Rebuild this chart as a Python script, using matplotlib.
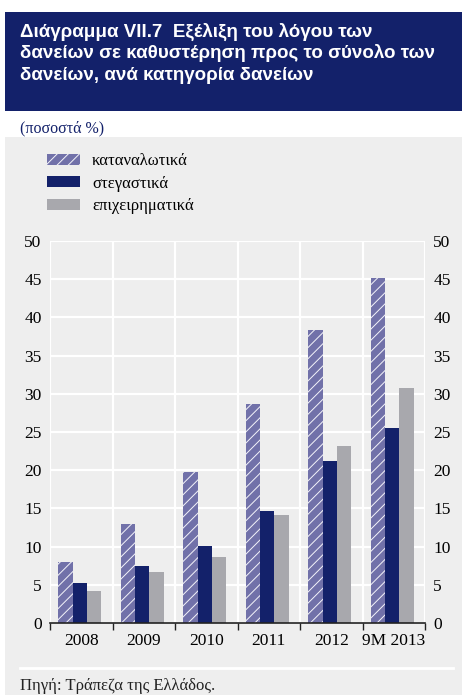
import matplotlib.pyplot as plt
from matplotlib.patches import Rectangle
import numpy as np

# Loans in arrears as % of total loans, by loan category
years = ["2008", "2009", "2010", "2011", "2012", "9M 2013"]
consumer = [8.0, 13.0, 19.8, 28.6, 38.3, 45.1]
housing = [5.2, 7.5, 10.1, 14.7, 21.2, 25.5]
business = [4.2, 6.7, 8.6, 14.1, 23.2, 30.8]
series_names = ["καταναλωτικά", "στεγαστικά", "επιχειρηματικά"]
y_ticks = [0, 5, 10, 15, 20, 25, 30, 35, 40, 45, 50]

navy = "#13216a"
lilac = "#7171a9"
grey = "#a8a8ad"
panel = "#eeeeee"
serif = "Liberation Serif"

plt.rcParams["hatch.linewidth"] = 0.7

W, H = 462, 695
fig = plt.figure(figsize=(W / 100, H / 100), dpi=100)
fig.patch.set_facecolor("white")

def fx(px):
    return px / W

def fy(py):
    return 1 - py / H

# title box and grey panel
fig.patches.append(Rectangle((fx(5), fy(111)), fx(457), 99 / H, transform=fig.transFigure,
                             facecolor=navy, edgecolor="none", zorder=-10))
fig.patches.append(Rectangle((fx(5), 0), fx(457), fy(137), transform=fig.transFigure,
                             facecolor=panel, edgecolor="none", zorder=-10))

title_lines = ["Διάγραμμα VII.7  Εξέλιξη του λόγου των",
               "δανείων σε καθυστέρηση προς το σύνολο των",
               "δανείων, ανά κατηγορία δανείων"]
for i, line in enumerate(title_lines):
    fig.text(fx(20), fy(37 + 21.5 * i), line, color="white", fontsize=13.5,
             fontweight="bold", family="Liberation Sans", va="baseline")

fig.text(fx(20), fy(132), "(ποσοστά %)", color=navy, fontsize=11.5, family=serif, va="baseline")

ax = fig.add_axes([fx(50), fy(623), fx(375), (623 - 241) / H])
ax.set_facecolor(panel)

x = np.arange(len(years))
w = 0.23
shift = -0.025
ax.bar(x - w + shift, consumer, w, color=lilac, edgecolor="#f4f4fa", linewidth=0,
       hatch="///", zorder=3, label=series_names[0])
ax.bar(x + shift, housing, w, color=navy, zorder=3, label=series_names[1])
ax.bar(x + w + shift, business, w, color=grey, zorder=3, label=series_names[2])

ax.set_xlim(-0.5, len(years) - 0.5)
ax.set_ylim(0, 50)
ax.set_yticks(y_ticks)
ax.set_xticks(x)
ax.set_xticklabels(years, family=serif, fontsize=12.5)
ax.set_xticks(np.arange(len(years) + 1) - 0.5, minor=True)
ax.tick_params(axis="x", which="major", length=0, pad=7)
ax.tick_params(axis="x", which="minor", length=5, width=1, color="#222222", direction="out")
ax.tick_params(axis="y", length=0, labelsize=12.5, labelleft=True, labelright=True, pad=6)
for lab in ax.get_yticklabels():
    lab.set_family(serif)
ax.grid(axis="y", color="white", linewidth=1.6, zorder=1)
ax.grid(axis="x", which="minor", color="white", linewidth=1.6, zorder=1)
ax.set_axisbelow(True)
for s in ["top", "right", "left"]:
    ax.spines[s].set_visible(False)
ax.spines["bottom"].set_color("#222222")
ax.spines["bottom"].set_linewidth(1.2)
ax.spines["bottom"].set_zorder(4)

# legend
handles, labels = ax.get_legend_handles_labels()
leg = fig.legend(handles, labels, loc="upper left", bbox_to_anchor=(fx(32), fy(138)),
                 frameon=False, prop={"family": serif, "size": 12}, handlelength=1.95,
                 handleheight=0.65, labelspacing=0.4, handletextpad=0.75)

# footer
fig.add_artist(plt.Line2D([fx(20), fx(453)], [fy(668), fy(668)], color="white", linewidth=2))
fig.text(fx(20), fy(690), "Πηγή: Τράπεζα της Ελλάδος.", family=serif, fontsize=12,
         color="#222222", va="baseline")

fig.savefig("out.png", dpi=100, facecolor=fig.get_facecolor())
